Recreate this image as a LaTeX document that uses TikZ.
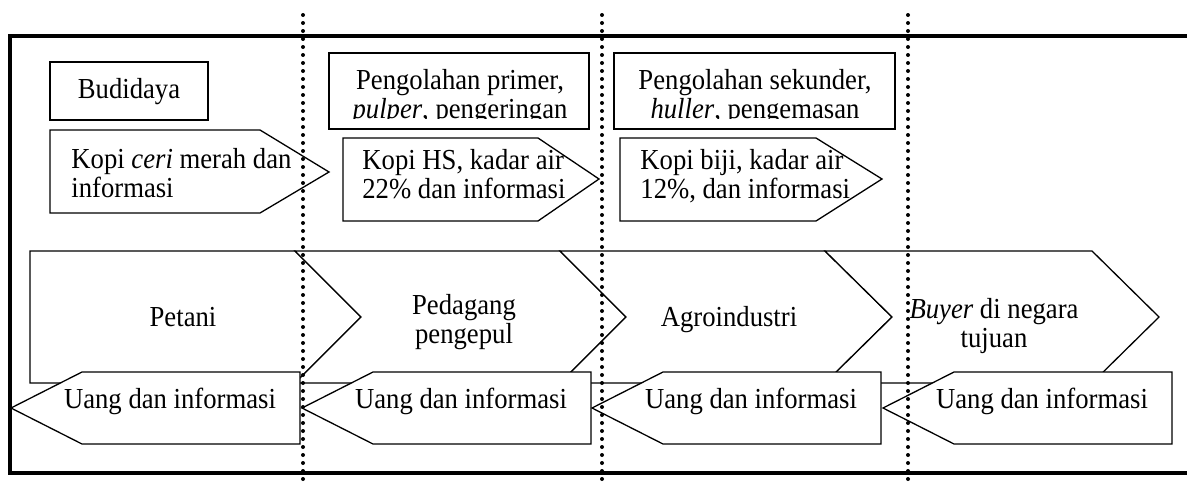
\documentclass[tikz,border=0pt]{standalone}
\usepackage{fontspec}
\setmainfont{Liberation Serif}[FakeStretch=0.92]
\tikzset{>=stealth}
\tikzset{
    frame/.style={line width=1.6pt},
    boxline/.style={line width=1pt, fill=white},
    flowline/.style={line width=0.65pt, fill=white},
    txt/.style={font=\fontsize{14.5}{14.5}\selectfont, inner sep=0pt},
    dotline/.style={line width=2pt, line cap=round, dash pattern=on 0pt off 4pt}
}

\begin{document}
\begin{tikzpicture}[x=0.5pt, y=-0.5pt]
    \useasboundingbox (0,0) rectangle (1187,482);
    \clip (0,0) rectangle (1187,482);
    \draw[frame] (10,36) rectangle (1200,473);

    % aktivitas
    \draw[boxline] (50,62) rectangle (208,120);
    \node[txt, anchor=base] (budidaya) at (129,98) {Budidaya};
    \draw[boxline] (329,53) rectangle (589,129);
    \draw[boxline] (614,53) rectangle (895,129);
    \begin{scope}
        \clip (329,53) rectangle (895,118.5);
        \node[txt, anchor=base, align=center] (primer) at (460,118) {Pengolahan primer,\\\textit{pulper}, pengeringan};
        \node[txt, anchor=base, align=center] (sekunder) at (755,118) {Pengolahan sekunder,\\\textit{huller}, pengemasan};
    \end{scope}

    % aliran produk
    \draw[flowline] (50,130) -- (260,130) -- (329,172) -- (260,213) -- (50,213) -- cycle;
    \node[txt, anchor=base west, align=left] (ceri) at (71,197) {Kopi \textit{ceri} merah dan\\informasi};
    \draw[flowline] (343,138) -- (538,138) -- (599,179) -- (538,221) -- (343,221) -- cycle;
    \node[txt, anchor=base west, align=left] (hs) at (362,198) {Kopi HS, kadar air\\22\% dan informasi};
    \draw[flowline] (620,138) -- (816,138) -- (882,179) -- (816,221) -- (620,221) -- cycle;
    \node[txt, anchor=base west, align=left] (biji) at (640,198) {Kopi biji, kadar air\\12\%, dan informasi};

    % pelaku
    \draw[flowline] (30,251) -- (295,251) -- (361,317) -- (295,383) -- (30,383) -- cycle;
    \draw[flowline] (295,251) -- (560,251) -- (626,317) -- (560,383) -- (295,383) -- (361,317) -- cycle;
    \draw[flowline] (560,251) -- (825,251) -- (892,317) -- (825,383) -- (560,383) -- (626,317) -- cycle;
    \draw[flowline] (825,251) -- (1092,251) -- (1159,317) -- (1092,383) -- (825,383) -- (892,317) -- cycle;
    \node[txt, anchor=base] (petani) at (183,326) {Petani};
    \node[txt, anchor=base, align=center] (pedagang) at (464,343) {Pedagang\\pengepul};
    \node[txt, anchor=base] (agro) at (729,326) {Agroindustri};
    \node[txt, anchor=base, align=center] (buyer) at (994,347) {\textit{Buyer} di negara\\tujuan};

    % aliran uang
    \foreach \t [count=\i] in {11,302,592,883} {
        \draw[flowline] ({\t+289},372) -- ({\t+71},372) -- (\t,408) -- ({\t+71},444) -- ({\t+289},444) -- cycle;
        \node[txt, anchor=base] (uang\i) at ({\t+159},408) {Uang dan informasi};
    }

    % batas
    \foreach \x in {303,602,908}
        \draw[dotline] (\x,15) -- (\x,482);
\end{tikzpicture}
\end{document}
